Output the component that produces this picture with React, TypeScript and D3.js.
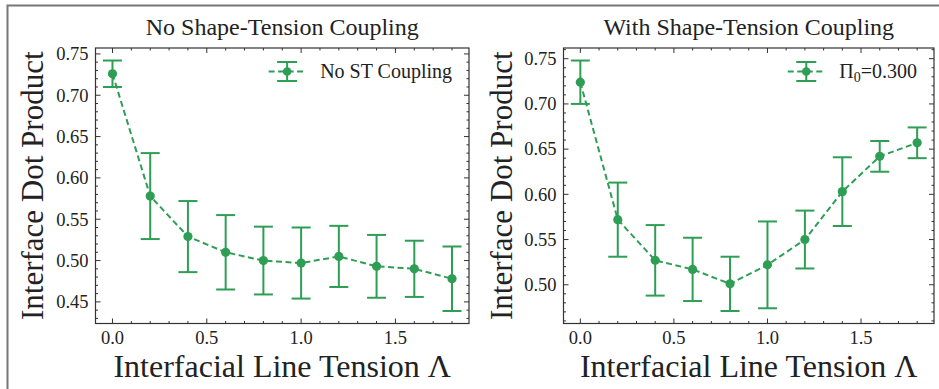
import {useEffect, useRef} from 'react';
import * as d3 from 'd3';

// Λ values along the x axis
const lambdaValues = [0, 0.2, 0.4, 0.6, 0.8, 1.0, 1.2, 1.4, 1.6, 1.8];

// left panel: no shape-tension coupling
const noCouplingMean = [0.726, 0.578, 0.529, 0.51, 0.5, 0.497, 0.505, 0.493, 0.49, 0.478];
const noCouplingErr = [0.016, 0.052, 0.043, 0.045, 0.041, 0.043, 0.037, 0.038, 0.034, 0.039];

// right panel: with shape-tension coupling (Π0 = 0.300)
const withCouplingMean = [0.724, 0.572, 0.527, 0.517, 0.501, 0.522, 0.55, 0.603, 0.642, 0.657];
const withCouplingErr = [0.024, 0.041, 0.039, 0.035, 0.03, 0.048, 0.032, 0.038, 0.017, 0.017];

const panelTitles = ['No Shape-Tension Coupling', 'With Shape-Tension Coupling'];
const xMajorTicks = [0, 0.5, 1.0, 1.5];
const yMajorStep = 0.05;
const yMinorStep = 0.01;
const xMinorStep = 0.1;

const W = 939;
const H = 389;
const GREEN = '#2f9e55';
const FONT = '"Liberation Serif", "DejaVu Serif", serif';

const App = () => {
  const ref = useRef<SVGSVGElement>(null);

  useEffect(() => {
    const svg = d3.select(ref.current);
    svg.selectAll('*').remove();

    // partial gray frame around the figure
    svg
      .append('path')
      .attr('d', `M7.5,${H} L7.5,5.5 L${W},5.5`)
      .attr('fill', 'none')
      .attr('stroke', '#777')
      .attr('stroke-width', 2);

    const panels = [
      {
        left: 95.5,
        right: 469,
        mean: noCouplingMean,
        err: noCouplingErr,
        title: panelTitles[0],
        ylabelX: 43,
        legend: 'plain',
      },
      {
        left: 563.5,
        right: 934,
        mean: withCouplingMean,
        err: withCouplingErr,
        title: panelTitles[1],
        ylabelX: 512,
        legend: 'pi',
      },
    ];
    const top = 48;
    const bottom = 323.5;

    panels.forEach((p) => {
      const g = svg.append('g');

      const x = d3.scaleLinear().domain([-0.09, 1.89]).range([p.left, p.right]);
      const lo = d3.min(p.mean, (m, i) => m - p.err[i])!;
      const hi = d3.max(p.mean, (m, i) => m + p.err[i])!;
      const pad = (hi - lo) * 0.05;
      const y = d3.scaleLinear().domain([lo - pad, hi + pad]).range([bottom, top]);

      // ticks (inward, on all four sides)
      const [y0, y1] = y.domain();
      const yMajor = d3
        .range(Math.ceil(y0 / yMajorStep - 1e-6), Math.floor(y1 / yMajorStep + 1e-6) + 1)
        .map((k) => k * yMajorStep);
      const yMinor = d3
        .range(Math.ceil(y0 / yMinorStep), Math.floor(y1 / yMinorStep) + 1)
        .filter((k) => k % 5 !== 0)
        .map((k) => k * yMinorStep);
      const xMinor = d3
        .range(0, 19)
        .filter((k) => k % 5 !== 0)
        .map((k) => k * xMinorStep);

      const tickColor = '#333';
      const addV = (vals: number[], len: number) => {
        vals.forEach((v) => {
          const px = x(v);
          g.append('line').attr('x1', px).attr('x2', px).attr('y1', bottom).attr('y2', bottom - len)
            .attr('stroke', tickColor).attr('stroke-width', 1);
          g.append('line').attr('x1', px).attr('x2', px).attr('y1', top).attr('y2', top + len)
            .attr('stroke', tickColor).attr('stroke-width', 1);
        });
      };
      const addH = (vals: number[], len: number) => {
        vals.forEach((v) => {
          const py = y(v);
          g.append('line').attr('x1', p.left).attr('x2', p.left + len).attr('y1', py).attr('y2', py)
            .attr('stroke', tickColor).attr('stroke-width', 1);
          g.append('line').attr('x1', p.right).attr('x2', p.right - len).attr('y1', py).attr('y2', py)
            .attr('stroke', tickColor).attr('stroke-width', 1);
        });
      };
      addV(xMajorTicks, 5);
      addV(xMinor, 2.5);
      addH(yMajor, 5);
      addH(yMinor, 2.5);

      g.append('rect')
        .attr('x', p.left)
        .attr('y', top)
        .attr('width', p.right - p.left)
        .attr('height', bottom - top)
        .attr('fill', 'none')
        .attr('stroke', '#333')
        .attr('stroke-width', 1.2);

      // tick labels
      g.selectAll('text.xt')
        .data(xMajorTicks)
        .enter()
        .append('text')
        .attr('x', (d) => x(d))
        .attr('y', bottom + 20.5)
        .attr('text-anchor', 'middle')
        .attr('font-family', FONT)
        .attr('font-size', 18.5)
        .attr('fill', '#222')
        .text((d) => d3.format('.1f')(d));

      g.selectAll('text.yt')
        .data(yMajor)
        .enter()
        .append('text')
        .attr('x', p.left - 7)
        .attr('y', (d) => y(d))
        .attr('dy', '0.34em')
        .attr('text-anchor', 'end')
        .attr('font-family', FONT)
        .attr('font-size', 18.5)
        .attr('fill', '#222')
        .text((d) => d3.format('.2f')(d));

      // titles and axis labels
      g.append('text')
        .attr('x', (p.left + p.right) / 2)
        .attr('y', 35)
        .attr('text-anchor', 'middle')
        .attr('font-family', FONT)
        .attr('font-size', 24)
        .attr('fill', '#222')
        .text(p.title);

      g.append('text')
        .attr('x', (p.left + p.right) / 2)
        .attr('y', 377)
        .attr('text-anchor', 'middle')
        .attr('font-family', FONT)
        .attr('font-size', 32)
        .attr('fill', '#222')
        .text('Interfacial Line Tension Λ');

      g.append('text')
        .attr('transform', `translate(${p.ylabelX},${(top + bottom) / 2}) rotate(-90)`)
        .attr('text-anchor', 'middle')
        .attr('font-family', FONT)
        .attr('font-size', 31)
        .attr('fill', '#222')
        .text('Interface Dot Product');

      // series: dashed line, error bars, markers
      const pts = lambdaValues.map((l, i) => ({l, m: p.mean[i], e: p.err[i]}));
      const line = d3
        .line<{l: number; m: number}>()
        .x((d) => x(d.l))
        .y((d) => y(d.m));

      g.append('path')
        .datum(pts)
        .attr('d', line)
        .attr('fill', 'none')
        .attr('stroke', GREEN)
        .attr('stroke-width', 2)
        .attr('stroke-dasharray', '6,3.5');

      const capHalf = 9.5;
      pts.forEach((d) => {
        const px = x(d.l);
        const yt = y(d.m + d.e);
        const yb = y(d.m - d.e);
        g.append('line').attr('x1', px).attr('x2', px).attr('y1', yt).attr('y2', yb)
          .attr('stroke', GREEN).attr('stroke-width', 2);
        [yt, yb].forEach((cy) => {
          g.append('line').attr('x1', px - capHalf).attr('x2', px + capHalf).attr('y1', cy).attr('y2', cy)
            .attr('stroke', GREEN).attr('stroke-width', 2);
        });
        g.append('circle').attr('cx', px).attr('cy', y(d.m)).attr('r', 4.6).attr('fill', GREEN);
      });

      // legend (upper right)
      const ly = 71.5;
      const label = g
        .append('text')
        .attr('x', p.right - 17)
        .attr('y', ly + 6.5)
        .attr('text-anchor', 'end')
        .attr('font-family', FONT)
        .attr('font-size', 20)
        .attr('fill', '#222');
      if (p.legend === 'pi') {
        label.append('tspan').text('Π');
        label.append('tspan').attr('font-size', 14).attr('dy', 4).text('0');
        label.append('tspan').attr('dy', -4).text('=0.300');
      } else {
        label.text('No ST Coupling');
      }
      const bb = (label.node() as SVGTextElement).getBBox();
      const hx1 = bb.x - 14.5;
      const hx0 = hx1 - 37;
      const hc = (hx0 + hx1) / 2;
      g.append('line').attr('x1', hx0).attr('x2', hx1).attr('y1', ly).attr('y2', ly)
        .attr('stroke', GREEN).attr('stroke-width', 2).attr('stroke-dasharray', '6,3.5');
      g.append('line').attr('x1', hc).attr('x2', hc).attr('y1', ly - 9.5).attr('y2', ly + 9.5)
        .attr('stroke', GREEN).attr('stroke-width', 2);
      [ly - 9.5, ly + 9.5].forEach((cy) => {
        g.append('line').attr('x1', hc - 10).attr('x2', hc + 10).attr('y1', cy).attr('y2', cy)
          .attr('stroke', GREEN).attr('stroke-width', 2);
      });
      g.append('circle').attr('cx', hc).attr('cy', ly).attr('r', 4.3).attr('fill', GREEN);
    });
  }, []);

  return (
    <svg
      ref={ref}
      width={W}
      height={H}
      style={{position: 'absolute', left: 0, top: 0, background: '#fff'}}
    />
  );
};

export default App;
